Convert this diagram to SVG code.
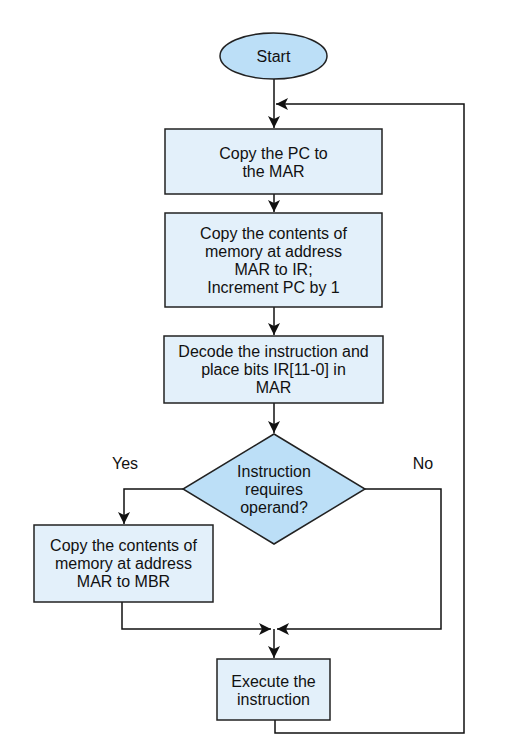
<svg xmlns="http://www.w3.org/2000/svg" width="515" height="755" viewBox="0 0 515 755">
<style>
  .box { fill: #e3f0fa; stroke: #222; stroke-width: 1.5; }
  .term { fill: #bcdff7; stroke: #222; stroke-width: 1.5; }
  .lbl { font-family: "Liberation Sans", Arial, sans-serif; font-size: 16px; fill: #111; text-anchor: middle; }
  .conn { fill: none; stroke: #111; stroke-width: 1.5; }
</style>
<defs>
  <marker id="arr" markerUnits="userSpaceOnUse" markerWidth="12" markerHeight="12" viewBox="0 0 12 12" refX="12" refY="6" orient="auto">
    <path d="M0,0 L12,6 L0,12 L3,6 z" fill="#111"/>
  </marker>
</defs>
<rect width="515" height="755" fill="#fff"/>
<g id="connectors">
  <path class="conn" d="M274,79 V128" marker-end="url(#arr)"/>
  <path class="conn" d="M275,720 V733 H464 V104 H276" marker-end="url(#arr)"/>
  <path class="conn" d="M274,194 V212" marker-end="url(#arr)"/>
  <path class="conn" d="M274,307 V335" marker-end="url(#arr)"/>
  <path class="conn" d="M274,403 V433" marker-end="url(#arr)"/>
  <path class="conn" d="M183,489 H124 V524" marker-end="url(#arr)"/>
  <path class="conn" d="M365,489 H441 V629 H277" marker-end="url(#arr)"/>
  <path class="conn" d="M122,602 V629 H271" marker-end="url(#arr)"/>
  <path class="conn" d="M274,629 V658" marker-end="url(#arr)"/>
</g>
<g id="start">
  <ellipse class="term" cx="273.5" cy="56" rx="53.5" ry="23"/>
  <text class="lbl" x="273.5" y="62">Start</text>
</g>
<g id="copy-pc">
  <rect class="box" x="165" y="129" width="217" height="65"/>
  <text class="lbl" x="273.5" y="159">Copy the PC to</text>
  <text class="lbl" x="273.5" y="177">the MAR</text>
</g>
<g id="fetch">
  <rect class="box" x="165" y="213" width="217" height="94"/>
  <text class="lbl" x="273.5" y="239">Copy the contents of</text>
  <text class="lbl" x="273.5" y="257">memory at address</text>
  <text class="lbl" x="273.5" y="275">MAR to IR;</text>
  <text class="lbl" x="273.5" y="293">Increment PC by 1</text>
</g>
<g id="decode">
  <rect class="box" x="164" y="336" width="219" height="67"/>
  <text class="lbl" x="273.5" y="357">Decode the instruction and</text>
  <text class="lbl" x="273.5" y="375">place bits IR[11-0] in</text>
  <text class="lbl" x="273.5" y="393">MAR</text>
</g>
<g id="decision">
  <polygon class="term" points="274,434 365,489 274,544 183,489"/>
  <text class="lbl" x="274" y="477">Instruction</text>
  <text class="lbl" x="274" y="495">requires</text>
  <text class="lbl" x="274" y="513">operand?</text>
</g>
<g id="yes-label"><text class="lbl" x="125" y="469">Yes</text></g>
<g id="no-label"><text class="lbl" x="423" y="469">No</text></g>
<g id="fetch-operand">
  <rect class="box" x="34" y="525" width="179" height="77"/>
  <text class="lbl" x="123.5" y="551">Copy the contents of</text>
  <text class="lbl" x="123.5" y="569">memory at address</text>
  <text class="lbl" x="123.5" y="587">MAR to MBR</text>
</g>
<g id="execute">
  <rect class="box" x="217" y="659" width="113" height="61"/>
  <text class="lbl" x="273.5" y="687">Execute the</text>
  <text class="lbl" x="273.5" y="705">instruction</text>
</g>
</svg>
